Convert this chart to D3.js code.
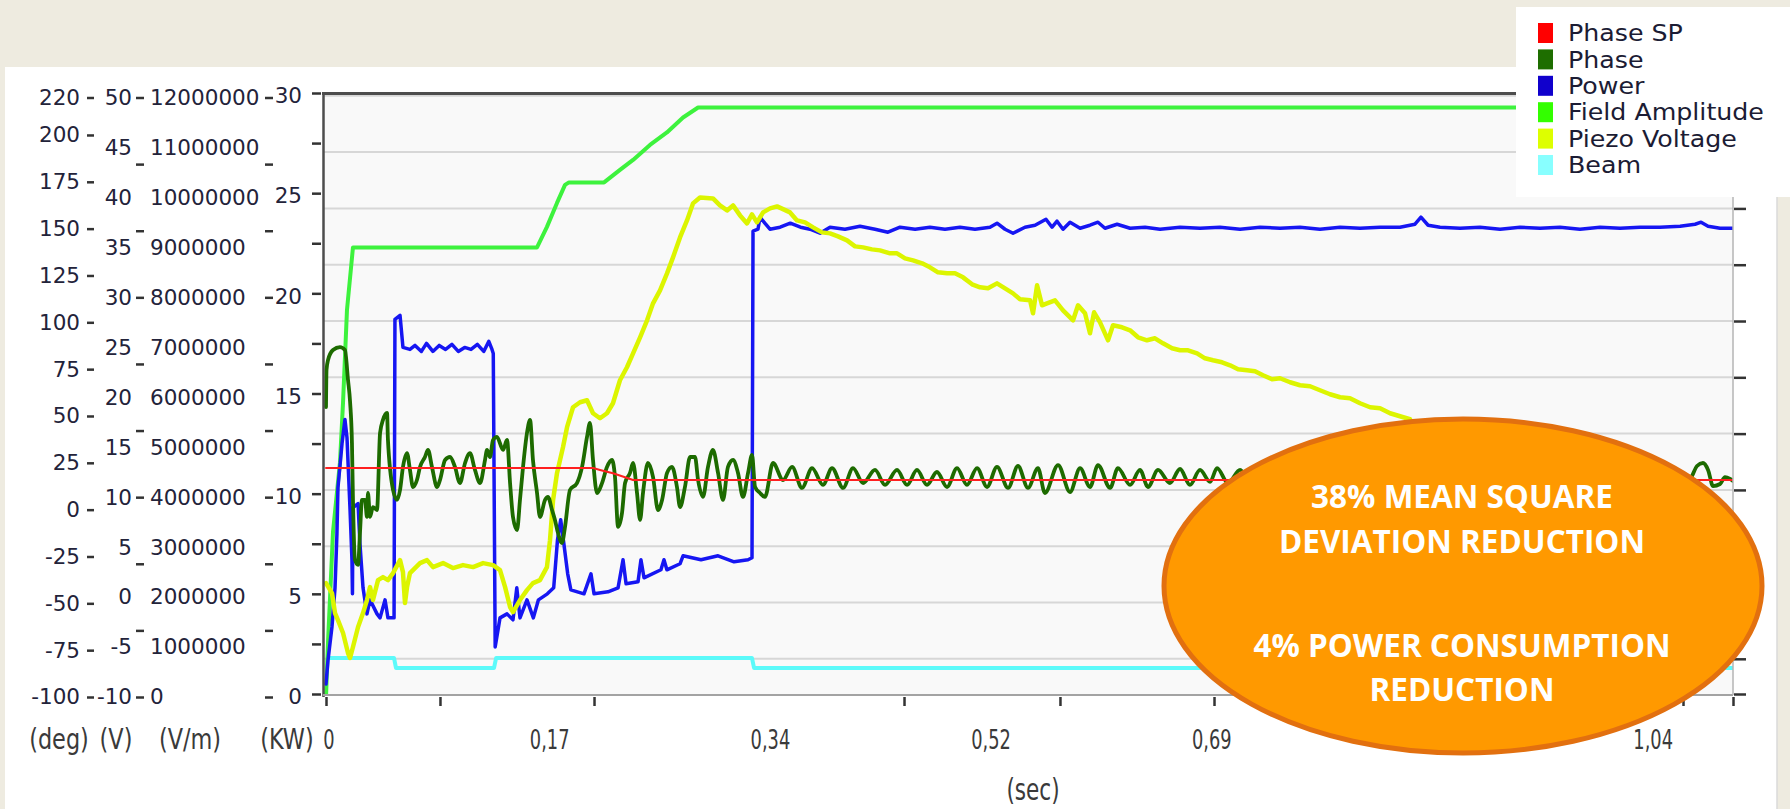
<!DOCTYPE html>
<html>
<head>
<meta charset="utf-8">
<script src="https://cdn.jsdelivr.net/npm/d3@7"></script>
<style>
  body { margin: 0; background: #EEEBE0; }
  svg { display: block; }
</style>
</head>
<body>
<svg id="chart" width="1790" height="809"></svg>
<script>
// ---------------- axis ticks and labels ----------------
const xTickTimes  = [0, 0.0896, 0.2107, 0.4544, 0.577, 0.6981, 0.8199, 0.9418, 1.0668, 1.1061];
const xLabelTimes = [0, 0.1735, 0.347, 0.5205, 0.694, 0.8675, 1.041];
const xLabelText  = ["0", "0,17", "0,34", "0,52", "0,69", "0,86", "1,04"];

const degLabels   = [220, 200, 175, 150, 125, 100, 75, 50, 25, 0, -25, -50, -75, -100];
const voltLabels  = [50, 45, 40, 35, 30, 25, 20, 15, 10, 5, 0, -5, -10];
const voltTicks   = [-10, -3.333, 3.333, 10, 16.667, 23.333, 30, 36.667, 43.333, 50];
const fieldLabels = [12000000, 11000000, 10000000, 9000000, 8000000, 7000000, 6000000,
                     5000000, 4000000, 3000000, 2000000, 1000000, 0];
const fieldTicks  = [0, 1333333, 2666667, 4000000, 5333333, 6666667, 8000000, 9333333, 10666667, 12000000];
const kwLabels    = [30, 25, 20, 15, 10, 5, 0];
const kwTicks     = [0, 2.5, 5, 7.5, 10, 12.5, 15, 17.5, 20, 22.5, 25, 27.5, 30];
const beamGrid    = [5, 13, 21, 29, 37, 45, 53, 61, 69, 77, 85];
const beamTicks   = [0, 5, 13, 21, 29, 37, 45, 53, 61, 69, 77, 85];

const unitLabels  = ["(deg)", "(V)", "(V/m)", "(KW)"];
const legendNames  = ["Phase SP", "Phase", "Power", "Field Amplitude", "Piezo Voltage", "Beam"];
const legendColors = ["#FF0000", "#1E6E00", "#1000CC", "#33FF00", "#DDFF00", "#88FFFF"];
const noteLines = ["38% MEAN SQUARE", "DEVIATION REDUCTION", "4% POWER CONSUMPTION", "REDUCTION"];

// ---------------- series: [time (s), value] ----------------
const phaseSP = [[0, 22.2], [0.21, 22.2], [0.2154, 21.2], [0.2256, 19.4], [0.2351, 17.3], [0.2414, 15.8], [1.1061, 15.8]];

const phase = [
  [0, 54.8], [0.0004, 74.6], [0.0016, 79.9], [0.0055, 85.2], [0.011, 86.8], [0.0149, 85.2], [0.0173, 69.2],
  [0.0189, 57.8], [0.0204, 35.6], [0.0212, 5.2], [0.0228, -26.9], [0.0252, -29.5], [0.0267, -12.5],
  [0.0283, 5.2], [0.0307, 5.2], [0.0322, -3.9], [0.033, 8.9], [0.0346, -3.9], [0.0369, 1.4], [0.0401, -0.2],
  [0.0425, 40.9], [0.0448, 47.9], [0.048, 51.6], [0.0487, 37.2], [0.0527, 10.5], [0.0558, 5.2], [0.0582, 10.5],
  [0.0605, 22.8], [0.0637, 30.2], [0.066, 21.2], [0.0684, 12.1], [0.0715, 15.8], [0.0739, 22.8], [0.0778, 28.1],
  [0.0802, 31.9], [0.0833, 22.8], [0.0873, 12.1], [0.0896, 15.8], [0.0936, 26.5], [0.0975, 28.1], [0.1014, 22.8],
  [0.1053, 14.2], [0.1093, 24.9], [0.1132, 30.2], [0.1171, 21.2], [0.1211, 14.2], [0.125, 26.5], [0.1266, 31.9],
  [0.1289, 28.1], [0.1313, 37.2], [0.1344, 38.8], [0.1392, 31.9], [0.1423, 37.2], [0.1447, 14.2], [0.147, -3.9],
  [0.1502, -10.9], [0.1525, 5.2], [0.1549, 22.8], [0.158, 40.9], [0.1604, 47.9], [0.1627, 26.5], [0.1659, 8.9],
  [0.1682, -3.9], [0.1722, 5.2], [0.1745, 6.8], [0.1777, -0.2], [0.18, -5.5], [0.1824, -12.5], [0.1855, -17.8],
  [0.1879, -9.2], [0.1918, 10.5], [0.1973, 14.2], [0.2013, 22.8], [0.2052, 38.8], [0.2075, 46.3], [0.2099, 26.5],
  [0.2131, 8.9], [0.217, 14.2], [0.2209, 22.8], [0.2248, 26.5], [0.2272, 17.4], [0.2296, -9.2], [0.2327, -1.8],
  [0.2351, 14.2], [0.239, 19.6], [0.2414, 24.9], [0.2445, 8.9], [0.2469, -5.5], [0.2492, 8.9], [0.2531, 24.9],
  [0.2571, 17.4], [0.261, -0.2], [0.2642, 5.2], [0.2681, 19.6], [0.272, 22.8], [0.2759, 12.1], [0.2783, 1.4],
  [0.2822, 12.1], [0.2862, 28.1], [0.2901, 28.1], [0.2925, 15.8], [0.2964, 6.8], [0.3003, 22.8], [0.3042, 31.9],
  [0.3082, 19.6], [0.3121, 5.2], [0.316, 22.8], [0.32, 26.5], [0.3239, 19.6], [0.3278, 6.8], [0.3318, 19.6],
  [0.3349, 29.2], [0.3373, 12.1], [0.3412, 8.9], [0.3451, 6.8],
  [0.3514, 24.9], [0.3593, 15.8], [0.3664, 22.8], [0.3742, 11.6], [0.3821, 22.2], [0.3907, 13.2], [0.3978, 22.2],
  [0.4065, 11.6], [0.4143, 22.2], [0.4222, 14.2], [0.4316, 21.2], [0.4395, 13.2], [0.4489, 21.2], [0.4568, 13.2],
  [0.4646, 21.2], [0.4725, 13.2], [0.4803, 20.1], [0.4882, 12.1], [0.4961, 22.2], [0.5039, 13.2], [0.5118, 22.2],
  [0.5197, 12.1], [0.5275, 22.8], [0.5362, 11.6], [0.544, 23.3], [0.5519, 11.6], [0.5597, 22.2], [0.5652, 8.9],
  [0.5755, 23.8], [0.5849, 9.4], [0.5928, 22.2], [0.6006, 12.1], [0.6069, 23.8], [0.6164, 11.6], [0.6226, 22.2],
  [0.6321, 13.2], [0.6399, 21.2], [0.6462, 12.1], [0.6541, 21.2], [0.6635, 14.2], [0.6714, 21.7], [0.6792, 13.2],
  [0.6871, 21.2], [0.695, 14.8], [0.7005, 22.2], [0.7091, 14.2], [0.7186, 21.2], [0.728, 13.2], [0.7358, 20.6],
  [0.74, null],
  [1.0645, 14.8], [1.0723, 16.4], [1.0778, 23.3], [1.0825, 24.9], [1.0865, 21.2], [1.0904, 12.6], [1.0959, 13.7],
  [1.0998, 17.4], [1.1038, 16.4], [1.1061, 15.3]
];

const power = [
  [0, 0.5], [0.0016, 1.7], [0.0047, 3.35], [0.0071, 5.3], [0.0086, 8.0], [0.0094, 10.3], [0.0126, 12.5],
  [0.0149, 13.7], [0.0165, 12.8], [0.0189, 9.2], [0.0204, 6.7], [0.0208, 5.0], [0.0212, 9.3], [0.0252, 9.5],
  [0.0267, 7.5], [0.0291, 5.3], [0.0322, 4.0], [0.0346, 4.7], [0.0401, 4.0], [0.0425, 3.8], [0.0464, 4.7],
  [0.0487, 3.8], [0.0535, 3.8],
  [0.0542, 18.7], [0.0582, 18.9], [0.0605, 17.3], [0.066, 17.2], [0.07, 17.4], [0.075, 17.1], [0.079, 17.5],
  [0.084, 17.1], [0.089, 17.4], [0.094, 17.2], [0.099, 17.45], [0.104, 17.1], [0.109, 17.3], [0.114, 17.2],
  [0.119, 17.45], [0.124, 17.1], [0.128, 17.6], [0.1305, 17.2], [0.1315, 17.0],
  [0.133, 2.35], [0.1368, 3.8], [0.1423, 4.0], [0.147, 3.7], [0.15, 5.3], [0.1525, 3.8], [0.158, 4.7],
  [0.163, 3.8], [0.167, 4.7], [0.174, 5.0], [0.179, 5.3], [0.182, 7.7], [0.1845, 8.7], [0.187, 7.5],
  [0.19, 6.0], [0.1925, 5.2], [0.2028, 5.0], [0.2083, 6.0], [0.2107, 5.0], [0.2217, 5.1], [0.2296, 5.3],
  [0.2335, 6.7], [0.2359, 5.5], [0.2453, 5.6], [0.2476, 6.7], [0.25, 5.8], [0.2633, 6.2], [0.2657, 6.7],
  [0.268, 6.2], [0.2783, 6.5], [0.2807, 6.9], [0.2948, 6.7], [0.3082, 6.9], [0.3208, 6.6], [0.3318, 6.7],
  [0.3349, 6.8],
  [0.3357, 23.1], [0.3396, 23.2], [0.3412, 23.8], [0.345, 23.5], [0.349, 23.2], [0.357, 23.3], [0.365, 23.5],
  [0.373, 23.3], [0.3805, 23.2], [0.3884, 23.0], [0.3962, 23.3], [0.408, 23.2], [0.4198, 23.35], [0.4316, 23.2],
  [0.4418, 23.05], [0.4513, 23.3], [0.4631, 23.2], [0.4748, 23.3], [0.4866, 23.2], [0.4984, 23.3], [0.5102, 23.2],
  [0.522, 23.3], [0.5275, 23.5], [0.5338, 23.2], [0.5401, 23.0], [0.5495, 23.3], [0.5574, 23.4], [0.566, 23.7],
  [0.5708, 23.3], [0.5747, 23.6], [0.5794, 23.2], [0.5849, 23.55], [0.5928, 23.25], [0.6006, 23.4], [0.6069, 23.55],
  [0.6124, 23.25], [0.6219, 23.45], [0.6321, 23.25], [0.6439, 23.3], [0.6557, 23.2], [0.6714, 23.3], [0.6871, 23.25],
  [0.7028, 23.3], [0.7186, 23.2], [0.7343, 23.3], [0.75, 23.25], [0.7657, 23.3], [0.7814, 23.2], [0.7972, 23.3],
  [0.8129, 23.25], [0.8286, 23.3], [0.8443, 23.3], [0.8561, 23.45], [0.8608, 23.8], [0.8664, 23.4], [0.8758, 23.3],
  [0.8915, 23.25], [0.9072, 23.3], [0.923, 23.2], [0.9387, 23.3], [0.9544, 23.25], [0.9701, 23.3], [0.9858, 23.2],
  [1.0016, 23.3], [1.0173, 23.25], [1.033, 23.3], [1.0487, 23.3], [1.0645, 23.35], [1.0763, 23.45], [1.081, 23.55],
  [1.0865, 23.35], [1.0959, 23.25], [1.1061, 23.25]
];

const field = [
  [0, 0], [0.0016, 1100000], [0.0055, 3300000], [0.011, 4700000], [0.0134, 5900000], [0.0165, 7750000],
  [0.0197, 8600000], [0.0212, 9000000], [0.1659, 9000000], [0.1737, 9410000], [0.1816, 9890000],
  [0.1879, 10250000], [0.191, 10300000], [0.2186, 10300000], [0.2311, 10550000], [0.2414, 10750000],
  [0.2547, 11050000], [0.268, 11300000], [0.2807, 11600000], [0.2925, 11800000], [1.1061, 11800000]
];

const piezo = [
  [0, 1.4], [0.0047, 0.4], [0.0071, -1.6], [0.0094, -2.3], [0.0134, -3.6], [0.0173, -5.6], [0.0189, -6.1],
  [0.0212, -5.0], [0.0252, -3.0], [0.0291, -1.6], [0.0322, -0.3], [0.0346, 1.0], [0.0369, -0.3], [0.0409, 1.7],
  [0.0448, 2.0], [0.0487, 1.7], [0.0527, 2.4], [0.0582, 3.7], [0.0605, 2.5], [0.0621, -0.6], [0.0637, 1.0],
  [0.066, 2.4], [0.0739, 3.4], [0.0794, 3.7], [0.0841, 3.0], [0.092, 3.4], [0.0998, 2.9], [0.1077, 3.2],
  [0.1156, 3.0], [0.1235, 3.4], [0.1313, 3.2], [0.1368, 2.7], [0.1408, 1.0], [0.1447, -1.0], [0.147, -1.5],
  [0.1525, -0.3], [0.158, 0.7], [0.1627, 1.4], [0.1682, 1.7], [0.1737, 3.0], [0.1761, 5.7], [0.1785, 9.7],
  [0.1816, 12.4], [0.1863, 15.0], [0.1895, 17.0], [0.1942, 19.0], [0.1997, 19.5], [0.2052, 19.7], [0.2099, 18.4],
  [0.2154, 17.9], [0.2209, 18.4], [0.2256, 19.4], [0.2311, 21.7], [0.2366, 23.0], [0.2414, 24.4], [0.2469, 26.0],
  [0.2524, 27.7], [0.2571, 29.4], [0.2626, 30.7], [0.2681, 32.4], [0.2728, 34.0], [0.2783, 36.0], [0.2838, 37.7],
  [0.2885, 39.4], [0.294, 40.0], [0.3042, 39.9], [0.3097, 39.2], [0.3153, 38.7], [0.32, 39.2], [0.3255, 38.2],
  [0.331, 37.4], [0.3349, 38.3], [0.3388, 37.5], [0.3436, 38.5], [0.3491, 38.9], [0.3546, 39.1], [0.3648, 38.5],
  [0.3703, 37.7], [0.3766, 37.5], [0.3829, 37.0], [0.3899, 36.5], [0.3962, 36.4], [0.4025, 36.1], [0.4096, 35.7],
  [0.4159, 35.1], [0.4222, 35.0], [0.4292, 34.8], [0.4355, 34.7], [0.4434, 34.4], [0.4489, 34.4], [0.4552, 33.9],
  [0.4615, 33.7], [0.4686, 33.4], [0.4748, 33.0], [0.4811, 32.5], [0.4882, 32.4], [0.4945, 32.4], [0.5008, 32.0],
  [0.5079, 31.3], [0.5142, 31.0], [0.5204, 30.9], [0.5275, 31.4], [0.5338, 30.9], [0.5401, 30.4], [0.5456, 29.8],
  [0.5535, 29.7], [0.5558, 28.4], [0.559, 31.2], [0.5629, 29.2], [0.5668, 29.4], [0.5731, 29.7], [0.5794, 28.7],
  [0.5873, 27.7], [0.5912, 29.2], [0.5967, 28.4], [0.6006, 26.4], [0.6038, 28.5], [0.6085, 27.5], [0.6148, 25.7],
  [0.6187, 27.2], [0.6258, 27.0], [0.6321, 26.7], [0.6384, 26.0], [0.6454, 25.7], [0.6517, 25.9], [0.658, 25.4],
  [0.6651, 24.9], [0.6714, 24.7], [0.6777, 24.7], [0.6848, 24.4], [0.691, 23.9], [0.6973, 23.7], [0.7044, 23.5],
  [0.7107, 23.2], [0.717, 22.8], [0.7241, 22.7], [0.7303, 22.6], [0.7366, 22.2], [0.7437, 21.8], [0.75, 21.9],
  [0.7579, 21.5], [0.7657, 21.2], [0.7736, 21.1], [0.7814, 20.7], [0.7893, 20.3], [0.7972, 20.0], [0.805, 19.9],
  [0.8129, 19.4], [0.8208, 19.0], [0.8286, 18.9], [0.8365, 18.4], [0.8443, 18.1], [0.8522, 17.8]
];

const beam = [[0.0015, 5.1], [0.0535, 5.1], [0.055, 3.7], [0.1321, 3.7], [0.1337, 5.1], [0.3349, 5.1],
              [0.3365, 3.7], [1.1061, 3.7]];

// ---------------- layout ----------------
const svg = d3.select("#chart");
const P = { left: 323, right: 1733, top: 93, bottom: 695 };

const x      = d3.scaleLinear().domain([0, 1.1061]).range([326, 1733]);
const yDeg   = d3.scaleLinear().domain([-100, 220]).range([697, 97.5]);
const yVolt  = d3.scaleLinear().domain([-10, 50]).range([697, 97.5]);
const yField = d3.scaleLinear().domain([0, 12000000]).range([697, 97.5]);
const yKW    = d3.scaleLinear().domain([0, 30]).range([694, 93]);
const yBeam  = d3.scaleLinear().domain([0, 85.4]).range([694, 93]);

// page background panels
svg.append("rect").attr("width", 1790).attr("height", 809).attr("fill", "#EEEBE0");
svg.append("rect").attr("x", 5).attr("y", 67).attr("width", 1772).attr("height", 742).attr("fill", "#FFFFFF");
svg.append("rect").attr("x", 1777).attr("y", 196).attr("width", 13).attr("height", 613).attr("fill", "#EEEBE0");
svg.append("line").attr("x1", 1777).attr("x2", 1777).attr("y1", 196).attr("y2", 809)
  .attr("stroke", "#DADADA").attr("stroke-width", 1.5);

// plot area
svg.append("rect").attr("x", P.left).attr("y", P.top).attr("width", P.right - P.left)
  .attr("height", P.bottom - P.top).attr("fill", "#F9F9F9");

svg.append("g").selectAll("line").data(beamGrid).join("line")
  .attr("x1", P.left).attr("x2", P.right)
  .attr("y1", d => yBeam(d)).attr("y2", d => yBeam(d))
  .attr("stroke", "#D7D7D7").attr("stroke-width", 2);

svg.append("clipPath").attr("id", "plotClip").append("rect")
  .attr("x", P.left + 1).attr("y", P.top).attr("width", P.right - P.left - 1).attr("height", P.bottom - P.top);

const series = svg.append("g").attr("clip-path", "url(#plotClip)")
  .attr("fill", "none").attr("stroke-linejoin", "round").attr("stroke-linecap", "round");

const lineFor = (yScale, curve) => d3.line()
  .defined(d => d[1] !== null)
  .curve(curve || d3.curveLinear)
  .x(d => x(d[0])).y(d => yScale(d[1]));

series.append("path").datum(beam).attr("d", lineFor(yBeam)).attr("stroke", "#5CFAFA").attr("stroke-width", 4);
series.append("path").datum(field).attr("d", lineFor(yField)).attr("stroke", "#3DF23D").attr("stroke-width", 4);
series.append("path").datum(power).attr("d", lineFor(yKW)).attr("stroke", "#1616F2").attr("stroke-width", 3.5);
series.append("path").datum(piezo).attr("d", lineFor(yVolt)).attr("stroke", "#DCF500").attr("stroke-width", 4.5);
series.append("path").datum(phase).attr("d", lineFor(yDeg, d3.curveMonotoneX)).attr("stroke", "#1D6B00").attr("stroke-width", 3.8);
series.append("path").datum(phaseSP).attr("d", lineFor(yDeg)).attr("stroke", "#FF2020").attr("stroke-width", 2);

// frame
svg.append("line").attr("x1", P.left - 1).attr("x2", P.right).attr("y1", P.top + 0.5).attr("y2", P.top + 0.5)
  .attr("stroke", "#4D4D4D").attr("stroke-width", 3);
svg.append("line").attr("x1", P.left + 0.5).attr("x2", P.left + 0.5).attr("y1", P.top).attr("y2", 697)
  .attr("stroke", "#4D4D4D").attr("stroke-width", 2.5);
svg.append("line").attr("x1", P.left).attr("x2", P.right).attr("y1", P.bottom).attr("y2", P.bottom)
  .attr("stroke", "#A3A3A3").attr("stroke-width", 2);
svg.append("line").attr("x1", P.right).attr("x2", P.right).attr("y1", P.top).attr("y2", P.bottom)
  .attr("stroke", "#B4B4B4").attr("stroke-width", 1.5);

// axes
function styleAxis(g, size) {
  g.select(".domain").remove();
  g.attr("font-family", "'DejaVu Sans', Verdana, sans-serif").attr("font-size", size);
  g.selectAll(".tick line").attr("stroke", "#333").attr("stroke-width", 2.5);
  g.selectAll(".tick text").attr("fill", "#23233A");
}
const plain = d => String(d);

svg.append("g").attr("transform", "translate(0,697)")
  .call(d3.axisBottom(x).tickValues(xTickTimes).tickSize(9).tickFormat(""))
  .call(g => styleAxis(g, 20));

svg.append("g").attr("transform", `translate(${P.right + 1},0)`)
  .call(d3.axisRight(yBeam).tickValues(beamTicks).tickSize(12).tickFormat(""))
  .call(g => styleAxis(g, 20));

svg.append("g").attr("transform", "translate(94,0)")
  .call(d3.axisLeft(yDeg).tickValues(degLabels).tickSize(7).tickPadding(7).tickFormat(plain))
  .call(g => styleAxis(g, 21.5));

svg.append("g").attr("transform", "translate(132,0)")
  .call(d3.axisLeft(yVolt).tickValues(voltLabels).tickSize(0).tickPadding(0).tickFormat(plain))
  .call(g => styleAxis(g, 21.5));
svg.append("g").attr("transform", "translate(144,0)")
  .call(d3.axisLeft(yVolt).tickValues(voltTicks).tickSize(8).tickFormat(""))
  .call(g => styleAxis(g, 21.5));

svg.append("g").attr("transform", "translate(150,0)")
  .call(d3.axisRight(yField).tickValues(fieldLabels).tickSize(0).tickPadding(0).tickFormat(plain))
  .call(g => styleAxis(g, 21.5));
svg.append("g").attr("transform", "translate(273,0)")
  .call(d3.axisLeft(yField).tickValues(fieldTicks).tickSize(8).tickFormat(""))
  .call(g => styleAxis(g, 21.5));

svg.append("g").attr("transform", "translate(321,0)")
  .call(d3.axisLeft(yKW).tickValues(kwTicks).tickSize(9).tickFormat(""))
  .call(g => styleAxis(g, 21.5));
svg.append("g").attr("transform", "translate(321,0)")
  .call(d3.axisLeft(yKW).tickValues(kwLabels).tickSize(0).tickPadding(19).tickFormat(plain))
  .call(g => styleAxis(g, 21.5))
  .call(g => g.selectAll(".tick text").attr("dy", "0.45em"));

// time labels (narrow lettering)
svg.append("g").selectAll("text").data(xLabelTimes).join("text")
  .attr("transform", d => `translate(${x(d) + 3},749) scale(0.66,1)`)
  .attr("text-anchor", "middle")
  .attr("font-family", "'DejaVu Sans', sans-serif").attr("font-size", 27)
  .attr("fill", "#3A3A3A")
  .text((d, i) => xLabelText[i]);

svg.append("text").attr("transform", "translate(1033,800) scale(0.72,1)")
  .attr("text-anchor", "middle").attr("font-family", "'DejaVu Sans', sans-serif")
  .attr("font-size", 30).attr("fill", "#3A3A3A").text("(sec)");

// unit captions under the value axes
const unitX = [59, 116, 190, 287];
svg.append("g").selectAll("text").data(unitLabels).join("text")
  .attr("transform", (d, i) => `translate(${unitX[i]},749) scale(0.8,1)`)
  .attr("text-anchor", "middle")
  .attr("font-family", "'DejaVu Sans', sans-serif").attr("font-size", 28)
  .attr("fill", "#3A3A3A")
  .text(d => d);

// legend
svg.append("rect").attr("x", 1516).attr("y", 7).attr("width", 274).attr("height", 190).attr("fill", "#FFFFFF");
const leg = svg.append("g").selectAll("g").data(legendNames).join("g")
  .attr("transform", (d, i) => `translate(1538,${33 + i * 26.4})`);
leg.append("rect").attr("x", 0).attr("y", -10).attr("width", 15).attr("height", 20)
  .attr("fill", (d, i) => legendColors[i]);
leg.append("text").attr("transform", "translate(30,0) scale(1.1,1)").attr("dy", "0.36em")
  .attr("font-family", "'DejaVu Sans', Verdana, sans-serif").attr("font-size", 23)
  .attr("fill", "#1C1C34").text(d => d);

// callout
svg.append("ellipse").attr("cx", 1463).attr("cy", 586).attr("rx", 299).attr("ry", 167)
  .attr("fill", "#FF9900").attr("stroke", "#E2700F").attr("stroke-width", 5);
const noteY = [508, 553, 657, 701];
svg.append("g").selectAll("text").data(noteLines).join("text")
  .attr("x", 1462).attr("y", (d, i) => noteY[i])
  .attr("text-anchor", "middle")
  .attr("font-family", "'Open Sans', sans-serif").attr("font-weight", 700).attr("font-size", 31.5)
  .attr("fill", "#FFFFFF")
  .text(d => d);
</script>
</body>
</html>
